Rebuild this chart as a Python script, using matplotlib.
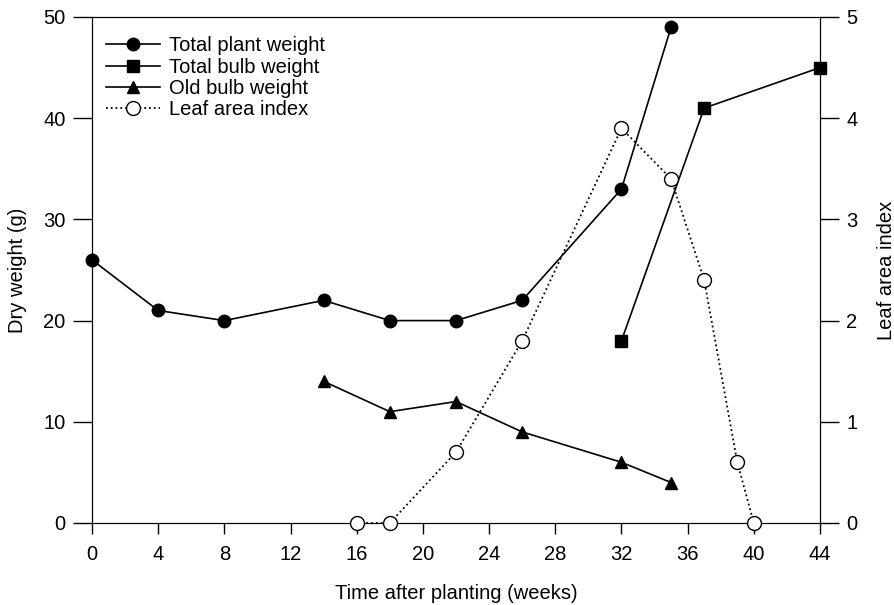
import matplotlib
matplotlib.use('Agg')
import matplotlib.pyplot as plt

plt.rcParams['font.family'] = ['Liberation Sans', 'DejaVu Sans']

# Dados
semanas_planta = [0, 4, 8, 14, 18, 22, 26, 32, 35]
peso_planta = [26, 21, 20, 22, 20, 20, 22, 33, 49]

semanas_bulbo = [32, 37, 44]
peso_bulbo = [18, 41, 45]

semanas_bulbo_velho = [14, 18, 22, 26, 32, 35]
peso_bulbo_velho = [14, 11, 12, 9, 6, 4]

semanas_iaf = [16, 18, 22, 26, 32, 35, 37, 39, 40]
iaf = [0, 0, 0.7, 1.8, 3.9, 3.4, 2.4, 0.6, 0]

fs = 14.5

fig = plt.figure(figsize=(8.95, 6.05), dpi=100)
ax = fig.add_axes([92 / 895, 1 - 523 / 605, (820 - 92) / 895, (523 - 17) / 605])
ax2 = ax.twinx()

l1, = ax.plot(semanas_planta, peso_planta, '-o', color='black', lw=1.2, ms=9,
              label='Total plant weight', clip_on=False, zorder=3)
l2, = ax.plot(semanas_bulbo, peso_bulbo, '-s', color='black', lw=1.2, ms=8,
              label='Total bulb weight', clip_on=False, zorder=3)
l3, = ax.plot(semanas_bulbo_velho, peso_bulbo_velho, '-^', color='black', lw=1.2, ms=9,
              label='Old bulb weight', clip_on=False, zorder=3)
l4, = ax2.plot(semanas_iaf, iaf, ':o', color='black', lw=1.3, ms=10,
               markerfacecolor='white', label='Leaf area index', clip_on=False, zorder=3)

ax.set_xlim(0, 44)
ax.set_ylim(0, 50)
ax2.set_ylim(0, 5)
ax.set_xticks(range(0, 45, 4))
ax.set_yticks(range(0, 51, 10))
ax2.set_yticks(range(0, 6))

for a in (ax, ax2):
    a.tick_params(axis='y', direction='out', length=14, width=1, labelsize=fs, pad=5)
    a.tick_params(axis='x', direction='out', length=8, width=1, labelsize=fs, pad=8)

ax.set_xlabel('Time after planting (weeks)', fontsize=fs, labelpad=14)
ax.set_ylabel('Dry weight (g)', fontsize=fs, labelpad=12)
ax2.set_ylabel('Leaf area index', fontsize=fs, labelpad=14)

ax.legend(handles=[l1, l2, l3, l4], loc='upper left', frameon=False, fontsize=fs,
          handlelength=2.7, handletextpad=0.4, labelspacing=0.12,
          borderaxespad=0.3, bbox_to_anchor=(0.0, 0.99))

fig.savefig('out.png', dpi=100)
